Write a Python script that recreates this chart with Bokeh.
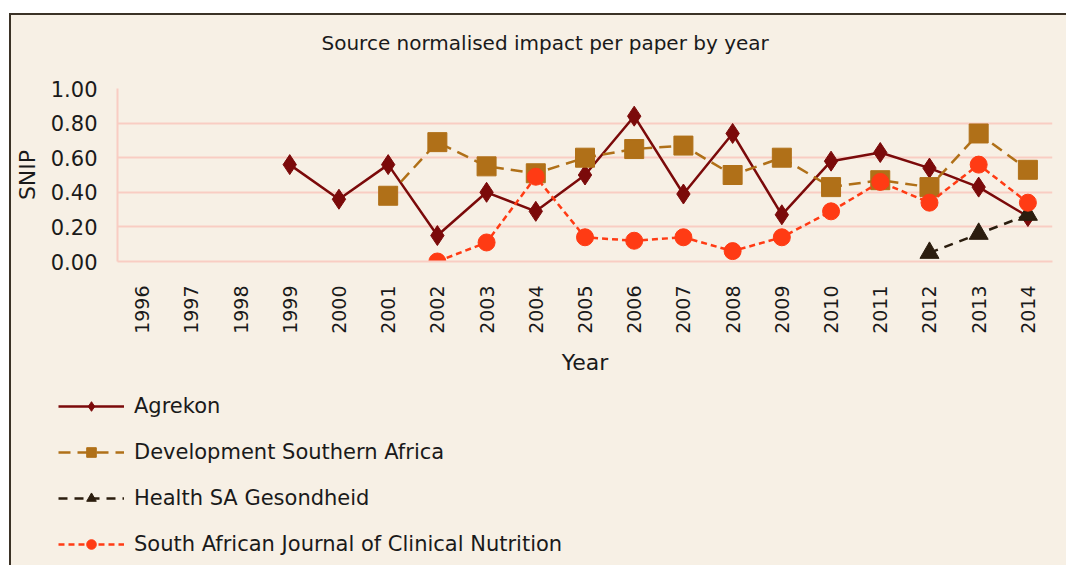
import math
from bokeh.plotting import figure
from bokeh.layouts import column
from bokeh.models import FixedTicker, NumeralTickFormatter, Legend, LegendItem, ColumnDataSource, Title
from bokeh.embed import file_html
from bokeh.resources import INLINE

nan = float("nan")
years = list(range(1996, 2015))
agrekon = [nan, nan, nan, 0.56, 0.36, 0.56, 0.15, 0.40, 0.29, 0.50, 0.84, 0.39, 0.74, 0.27, 0.58, 0.63, 0.54, 0.43, 0.26]
dsa = [nan, nan, nan, nan, nan, 0.38, 0.69, 0.55, 0.51, 0.60, 0.65, 0.67, 0.50, 0.60, 0.43, 0.47, 0.43, 0.74, 0.53]
health = [nan] * 16 + [0.05, 0.16, 0.27]
sajcn = [nan] * 6 + [0.00, 0.11, 0.49, 0.14, 0.12, 0.14, 0.06, 0.14, 0.29, 0.46, 0.34, 0.56, 0.34]

series = [
    ("Agrekon", agrekon, "#7B0A0A", "solid", "diamond", 20),
    ("Development Southern Africa", dsa, "#B07018", "12 7", "square", 19),
    ("Health SA Gesondheid", health, "#2B1D0E", "9 7", "triangle", 19),
    ("South African Journal of Clinical Nutrition", sajcn, "#FF3B14", "6 4", "circle", 17),
]

BG = "#F7F0E5"
GRID = "#F9CDC3"
FONT = "DejaVu Sans"

p = figure(width=1055, height=370, output_backend="svg", toolbar_location=None,
           title_location=None,
           x_range=(1995.5, 2014.5), y_range=(0, 1.0),
           background_fill_color=BG, border_fill_color=BG,
           min_border_left=106, min_border_right=14, min_border_top=73, min_border_bottom=124)
p.outline_line_color = None

# spacer panel between frame and title (closest to the frame), then the title above it
p.add_layout(Title(text=" ", text_font_size="10px", standoff=8, text_color=BG), "above")
p.add_layout(Title(text="Source normalised impact per paper by year", align="left", offset=204,
                   text_font=FONT, text_font_size="20px", text_font_style="normal",
                   text_color="#1A1A1A", standoff=25), "above")

p.xgrid.grid_line_color = None
p.ygrid.grid_line_color = GRID
p.ygrid.grid_line_width = 2

p.xaxis.ticker = FixedTicker(ticks=years)
p.xaxis.major_label_overrides = {y: str(y) for y in years}
p.xaxis.major_label_orientation = math.pi / 2
p.yaxis.ticker = FixedTicker(ticks=[0, 0.2, 0.4, 0.6, 0.8, 1.0])
p.yaxis.formatter = NumeralTickFormatter(format="0.00")
for ax in (p.xaxis, p.yaxis):
    ax.axis_line_color = GRID
    ax.axis_line_width = 2
    ax.major_tick_line_color = None
    ax.minor_tick_line_color = None
    ax.major_label_text_font = FONT
    ax.major_label_text_color = "#1A1A1A"
    ax.axis_label_text_font = FONT
    ax.axis_label_text_font_style = "normal"
    ax.axis_label_text_color = "#1A1A1A"
p.xaxis.major_label_text_font_size = "19px"
p.yaxis.major_label_text_font_size = "21px"
p.xaxis.axis_label = "Year"
p.yaxis.axis_label = "SNIP"
p.xaxis.axis_label_text_font_size = "22px"
p.yaxis.axis_label_text_font_size = "22px"
p.xaxis.major_label_standoff = 18
p.yaxis.major_label_standoff = 14
p.xaxis.axis_label_standoff = 13
p.yaxis.axis_label_standoff = 8

# legend figure below the chart
p2 = figure(width=1055, height=180, output_backend="svg", toolbar_location=None,
            x_range=(0, 1), y_range=(0, 1),
            background_fill_color=BG, border_fill_color=BG,
            x_axis_location=None, y_axis_location=None,
            min_border_left=0, min_border_right=0, min_border_top=0, min_border_bottom=0)
p2.grid.visible = False
p2.outline_line_color = None

items = []
for name, vals, color, dash, marker, size in series:
    src = ColumnDataSource(dict(x=years, y=vals))
    p.line("x", "y", source=src, line_color=color, line_width=2.5, line_dash=dash)
    p.scatter("x", "y", source=src, marker=marker, size=size, fill_color=color, line_color=color)
    ln = p2.line("x", "y", source=src, line_color=color, line_width=2.5, line_dash=dash, visible=False)
    sc = p2.scatter("x", "y", source=src, marker=marker, size=size, fill_color=color, line_color=color, visible=False)
    items.append(LegendItem(label=name, renderers=[ln, sc]))

legend = Legend(items=items, location=(47, 9), orientation="vertical",
                background_fill_alpha=0, border_line_color=None, inactive_fill_alpha=0,
                glyph_width=66, glyph_height=24, label_height=24, spacing=22,
                label_standoff=10, padding=0, margin=0,
                label_text_font=FONT, label_text_font_size="21px", label_text_color="#1A1A1A")
p2.add_layout(legend, "center")

layout = column(p, column(p2, spacing=0), spacing=0)
layout.styles = {"border-left": "2px solid #3B3226", "border-top": "2px solid #3B3226",
                 "margin-left": "9px", "margin-top": "13px", "background-color": BG}

open("out.html", "w").write(file_html(layout, INLINE))
